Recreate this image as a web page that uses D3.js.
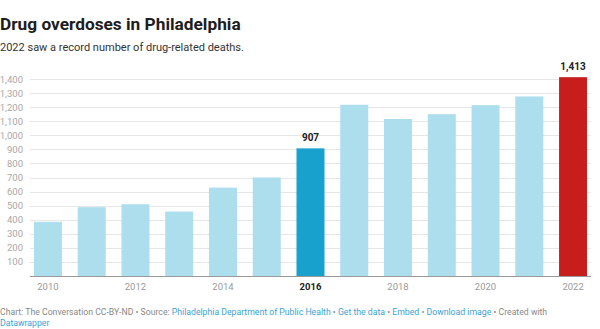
<!DOCTYPE html>
<html lang="en">
<head>
<meta charset="utf-8">
<script src="https://cdn.jsdelivr.net/npm/d3@7"></script>
<style>
body { margin: 0; background: #fff; font-family: Roboto, sans-serif; }
svg text { font-family: Roboto, sans-serif; }
.grid line { stroke: #e6e6e6; }
.axis--y text { fill: #a8a8a8; font-size: 9.5px; }
.axis--x text { fill: #9a9a9a; font-size: 9.5px; }
.link { fill: #3aa3d8; }
</style>
</head>
<body>
<script>
// data
var years = ["2010","2011","2012","2013","2014","2015","2016","2017","2018","2019","2020","2021","2022"];
var deaths = [385, 489, 510, 458, 628, 700, 907, 1217, 1116, 1150, 1214, 1276, 1413];
var yTicks = [100,200,300,400,500,600,700,800,900,1000,1100,1200,1300,1400];
var xLabels = ["2010","2012","2014","2016","2018","2020","2022"];
var labelled = ["2016","2022"];

var W = 600, H = 329;
var colorOf = function(yr) {
  if (yr == "2016") return "#18a1cd";
  if (yr == "2022") return "#c71e1d";
  return "#addeed";
};

var svg = d3.select("body").append("svg")
  .attr("width", W).attr("height", H);

svg.append("text")
  .attr("x", 0).attr("y", 30)
  .style("font-size", "17.3px").style("font-weight", "bold").attr("fill", "#1d1d1d")
  .text("Drug overdoses in Philadelphia");
svg.append("text")
  .attr("x", 0).attr("y", 50.5)
  .style("font-size", "11px").attr("fill", "#333")
  .text("2022 saw a record number of drug-related deaths.");

var x = d3.scaleBand().domain(years).range([30, 591])
  .paddingInner(0.36).paddingOuter(0.09);
var y = d3.scaleLinear().domain([0, 1400]).range([276, 79]);

// gridlines
svg.append("g").attr("class", "grid")
  .selectAll("line").data(yTicks).enter().append("line")
    .attr("x1", 30).attr("x2", 591)
    .attr("y1", function(d){ return Math.round(y(d)) + 0.5; })
    .attr("y2", function(d){ return Math.round(y(d)) + 0.5; });

svg.append("g").attr("class", "axis--y")
  .selectAll("text").data(yTicks).enter().append("text")
    .attr("x", 23).attr("y", function(d){ return y(d) + 3.5; })
    .attr("text-anchor", "end")
    .text(d3.format(","));

// bars
svg.append("g").selectAll("rect").data(years).enter().append("rect")
  .attr("x", function(d){ return x(d); })
  .attr("width", x.bandwidth())
  .attr("y", function(d,i){ return y(deaths[i]); })
  .attr("height", function(d,i){ return y(0) - y(deaths[i]); })
  .attr("fill", function(d){ return colorOf(d); });

// baseline
svg.append("line")
  .attr("x1", 30).attr("x2", 591)
  .attr("y1", 276.5).attr("y2", 276.5)
  .attr("stroke", "#999");

// value labels
svg.append("g").selectAll("text").data(labelled).enter().append("text")
  .attr("x", function(d){ return x(d) + x.bandwidth()/2; })
  .attr("y", function(d){ return y(deaths[years.indexOf(d)]) - 7; })
  .attr("text-anchor", "middle")
  .style("font-size", "10px").style("font-weight", "bold").attr("fill", "#222")
  .text(function(d){ return d3.format(",")(deaths[years.indexOf(d)]); });

// x labels
svg.append("g").attr("class", "axis--x")
  .selectAll("text").data(xLabels).enter().append("text")
    .attr("x", function(d){ return x(d) + x.bandwidth()/2; })
    .attr("y", 290)
    .attr("text-anchor", "middle")
    .style("font-weight", function(d){ return d == "2016" ? "bold" : null; })
    .style("fill", function(d){ return d == "2016" ? "#222" : null; })
    .text(function(d){ return d; });

// footer
var f1 = svg.append("text").attr("x", 0).attr("y", 315)
  .style("font-size", "8.7px").attr("fill", "#888");
f1.append("tspan").text("Chart: The Conversation CC-BY-ND \u2022 Source: ");
f1.append("tspan").attr("class", "link").text("Philadelphia Department of Public Health");
f1.append("tspan").text(" \u2022 ");
f1.append("tspan").attr("class", "link").text("Get the data");
f1.append("tspan").text(" \u2022 ");
f1.append("tspan").attr("class", "link").text("Embed");
f1.append("tspan").text(" \u2022 ");
f1.append("tspan").attr("class", "link").text("Download image");
f1.append("tspan").text(" \u2022 Created with");
svg.append("text").attr("x", 0).attr("y", 325.5)
  .attr("class", "link").style("font-size", "8.7px")
  .text("Datawrapper");
</script>
</body>
</html>
